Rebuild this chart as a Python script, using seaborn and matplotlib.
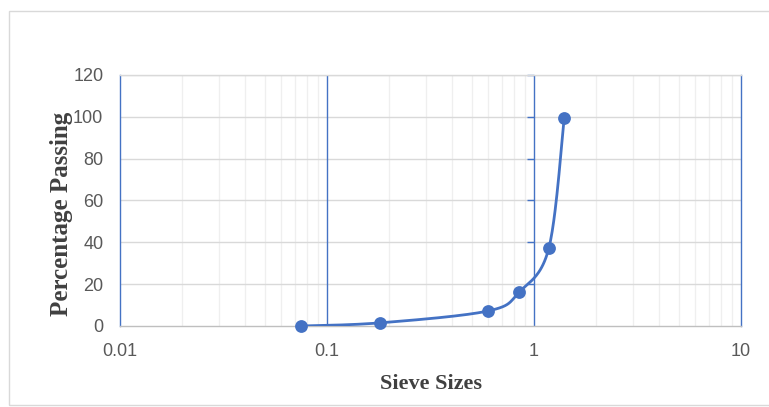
import numpy as np
import pandas as pd
import matplotlib
matplotlib.use("Agg")
import matplotlib.pyplot as plt
import matplotlib.markers as mmarkers
import seaborn as sns
from matplotlib.ticker import FixedLocator, NullFormatter, FuncFormatter
from matplotlib.patches import Rectangle

sieve_sizes = [0.075, 0.18, 0.6, 0.85, 1.18, 1.4]
percent_passing = [0.0, 1.5, 7.2, 16.3, 37.3, 99.5]
x_ticks = [0.01, 0.1, 1, 10]
x_tick_labels = ["0.01", "0.1", "1", "10"]
y_ticks = [0, 20, 40, 60, 80, 100, 120]

BLUE = "#4472C4"

sns.set_theme(style="white")
plt.rcParams['font.family'] = ['Liberation Sans', 'DejaVu Sans']

fig = plt.figure(figsize=(7.69, 4.07), dpi=100)
fig.patches.append(Rectangle((9/769, 1 - 405/407), 1.0, (405-11)/407, transform=fig.transFigure,
                             fill=False, edgecolor="#d9d9d9", linewidth=1.0))
ax = fig.add_axes([120/769, 1 - 326/407, (741-120)/769, (326-75)/407])


def smooth_curve(xs, ys, n=40):
    # Catmull-Rom (Excel-style smoothed line) in log-x space
    lx = np.log10(xs)
    P = np.column_stack([lx, ys])
    P = np.vstack([P[0], P, P[-1]])
    out = []
    for i in range(1, len(P) - 2):
        p0, p1, p2, p3 = P[i-1], P[i], P[i+1], P[i+2]
        c1 = p1 + (p2 - p0) / 6
        c2 = p2 - (p3 - p1) / 6
        t = np.linspace(0, 1, n)[:, None]
        b = ((1-t)**3) * p1 + 3*((1-t)**2)*t*c1 + 3*(1-t)*t**2*c2 + t**3*p2
        out.append(b)
    B = np.vstack(out)
    return 10**B[:, 0], B[:, 1]

cx, cy = smooth_curve(np.array(sieve_sizes), np.array(percent_passing))
curve = pd.DataFrame({"size": cx, "pass": cy})
pts = pd.DataFrame({"size": sieve_sizes, "pass": percent_passing})

ax.set_xscale("log")
ax.set_xlim(0.01, 10)
ax.set_ylim(0, 120)

# gridlines
minor = [m * 10.0**e for e in (-2, -1, 0) for m in range(2, 10)]
for v in minor:
    ax.axvline(v, color="#efefef", linewidth=0.9, zorder=0)
for v in y_ticks[1:]:
    ax.axhline(v, color="#d9d9d9", linewidth=1.0, zorder=0.5)
for v in [0.1, 1]:
    ax.axvline(v, color=BLUE, linewidth=1.0, zorder=1)
# small tick marks on the vertical line at 1
ax.plot([1] * len(y_ticks[1:]), y_ticks[1:], linestyle="none",
        marker=mmarkers.TICKLEFT, markersize=5, markeredgewidth=1.0,
        color=BLUE, zorder=1, clip_on=False)

sns.lineplot(data=curve, x="size", y="pass", sort=False, estimator=None,
             color=BLUE, linewidth=2.0, ax=ax, zorder=3)
sns.scatterplot(data=pts, x="size", y="pass", color=BLUE, s=85,
                edgecolor=BLUE, linewidth=0, ax=ax, zorder=4, clip_on=False)

ax.xaxis.set_major_locator(FixedLocator(x_ticks))
ax.xaxis.set_major_formatter(FuncFormatter(lambda v, p: x_tick_labels[x_ticks.index(v)] if v in x_ticks else ""))
ax.xaxis.set_minor_formatter(NullFormatter())
ax.set_yticks(y_ticks)
ax.tick_params(axis="both", which="both", length=0, labelsize=13, labelcolor="#595959")
ax.tick_params(axis="y", pad=12)
ax.tick_params(axis="x", pad=12)

ax.spines["top"].set_color("#d9d9d9")
ax.spines["top"].set_linewidth(1.0)
ax.spines["bottom"].set_color("#bfbfbf")
ax.spines["bottom"].set_linewidth(1.0)
for side in ["left", "right"]:
    ax.spines[side].set_color(BLUE)
    ax.spines[side].set_linewidth(1.0)

ax.set_xlabel("Sieve Sizes", family=["Liberation Serif"], fontweight="bold",
              fontsize=16, color="#404040", va="center")
ax.xaxis.set_label_coords(0.50, -0.231)
ax.set_ylabel("Percentage Passing", family=["Liberation Serif"], fontweight="bold",
              fontsize=18, color="#404040", va="center")
ax.yaxis.set_label_coords(-0.095, 0.446)

fig.savefig("out.png", dpi=100)
